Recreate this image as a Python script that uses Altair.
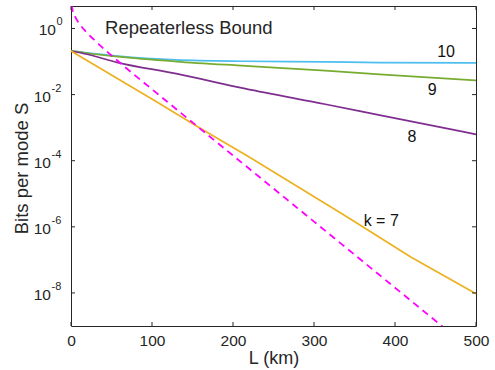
import altair as alt
import pandas as pd

# ---- data ----
L_k = [0, 20, 58, 130, 215, 314, 381, 500]
S_k10 = [0.209, 0.182, 0.145, 0.112, 0.102, 0.098, 0.093, 0.091]
S_k9 = [0.209, 0.178, 0.140, 0.100, 0.074, 0.053, 0.041, 0.027]
S_k8 = [0.209, 0.166, 0.093, 0.043, 0.0151, 0.0051, 0.0024, 0.00063]

L_k7 = [0, 103, 159, 221, 338, 420, 500]
S_k7 = [0.209, 6.6e-3, 9.8e-4, 1.25e-4, 2.2e-6, 1.2e-7, 9.5e-9]

L_bound = [0.8, 2, 5, 10, 20, 30, 50, 75, 100, 150, 200, 300, 400, 470]
S_bound = [5.2, 3.5, 2.28, 1.44, 0.73, 0.42, 0.152, 0.046, 0.0145,
           1.44e-3, 1.44e-4, 1.44e-6, 1.44e-8, 5.7e-10]

series_names = ["10", "9", "8", "7"]
series_colors = ["#4DBEEE", "#77AC30", "#7E2F8E", "#EDB120"]

label_text = ["10", "9", "8", "k = 7", "Repeaterless Bound"]
label_L = [463, 446, 421, 383, 42]
label_S = [0.19, 0.0135, 5.1e-4, 1.55e-6, 1.0]

x_ticks = [0, 100, 200, 300, 400, 500]
y_exps = [0, -2, -4, -6, -8]

W, H = 405, 320
FONT = "Liberation Sans"
TXT = "#262626"

# ---- tables ----
rows = []
for name, Ls, Ss in [("10", L_k, S_k10), ("9", L_k, S_k9), ("8", L_k, S_k8)]:
    for l, s in zip(Ls, Ss):
        rows.append({"L": l, "S": s, "series": name})
df_curves = pd.DataFrame(rows)
df_k7 = pd.DataFrame({"L": L_k7, "S": S_k7, "series": "7"})
df_bound = pd.DataFrame({"L": L_bound, "S": S_bound})
df_labels = pd.DataFrame({"L": label_L, "S": label_S, "txt": label_text})
df_xt = pd.DataFrame({"L": x_ticks})
df_yt = pd.DataFrame({"S": [10.0 ** e for e in y_exps], "exp": [str(e) for e in y_exps]})

xscale = alt.Scale(domain=[0, 500], nice=False, zero=False)
yscale = alt.Scale(type="log", domain=[1e-9, 4.79], nice=False)

xaxis = alt.Axis(values=x_ticks, ticks=False, tickSize=0, domain=False, grid=False,
                 labelPadding=7, labelFontSize=15.5, labelColor=TXT, labelFont=FONT,
                 labelFlush=False, title="L (km)", titlePadding=1, titleFontSize=18,
                 titleFontWeight="normal", titleColor=TXT, titleFont=FONT)
yaxis = alt.Axis(labels=False, ticks=False, domain=False, grid=False,
                 title="Bits per mode S", titleX=-50, titleY=162, titleAngle=270,
                 titleAlign="center", titleBaseline="middle", titleFontSize=18.5,
                 titleFontWeight="normal", titleColor=TXT, titleFont=FONT)

X = alt.X("L:Q", scale=xscale, axis=xaxis)
Y = alt.Y("S:Q", scale=yscale, axis=yaxis)
color = alt.Color("series:N", scale=alt.Scale(domain=series_names, range=series_colors), legend=None)

curves = alt.Chart(df_curves).mark_line(strokeWidth=1.7, interpolate="monotone").encode(
    x=X, y=Y, color=color, detail="series:N")
k7 = alt.Chart(df_k7).mark_line(strokeWidth=1.7).encode(x=X, y=Y, color=color)
bound = alt.Chart(df_bound).mark_line(strokeWidth=1.8, color="#FF00FF", strokeDash=[7, 5],
                                       interpolate="monotone", clip=True).encode(x=X, y=Y)

labels_lines = alt.Chart(df_labels).transform_filter("datum.txt != 'Repeaterless Bound'").mark_text(
    font=FONT, fontSize=16, color="#111", align="center", baseline="middle").encode(
    x=X, y=Y, text="txt:N")
label_bound = alt.Chart(df_labels).transform_filter("datum.txt == 'Repeaterless Bound'").mark_text(
    font=FONT, fontSize=18.5, color=TXT, align="left", baseline="middle").encode(
    x=X, y=Y, text="txt:N")

# inward ticks (MATLAB style box)
tick_c = "#262626"
xt_bottom = alt.Chart(df_xt).mark_rule(color=tick_c).encode(x=X, y=alt.value(H - 4), y2=alt.value(H))
xt_top = alt.Chart(df_xt).mark_rule(color=tick_c).encode(x=X, y=alt.value(0), y2=alt.value(4))
yt_left = alt.Chart(df_yt).mark_rule(color=tick_c).encode(y=Y, x=alt.value(0), x2=alt.value(4))
yt_right = alt.Chart(df_yt).mark_rule(color=tick_c).encode(y=Y, x=alt.value(W - 4), x2=alt.value(W))

# y tick labels 10^e
base0 = alt.Chart(df_yt).transform_filter("datum.exp == '0'").mark_text(
    text="10", font=FONT, fontSize=15.5, color=TXT, align="right", baseline="middle", dy=2).encode(
    y=Y, x=alt.value(-15))
baseN = alt.Chart(df_yt).transform_filter("datum.exp != '0'").mark_text(
    text="10", font=FONT, fontSize=15.5, color=TXT, align="right", baseline="middle", dy=2).encode(
    y=Y, x=alt.value(-20))
exp0 = alt.Chart(df_yt).transform_filter("datum.exp == '0'").mark_text(
    font=FONT, fontSize=11, color=TXT, align="left", baseline="middle", dy=-6).encode(
    y=Y, x=alt.value(-14.5), text="exp:N")
expN = alt.Chart(df_yt).transform_filter("datum.exp != '0'").mark_text(
    font=FONT, fontSize=11, color=TXT, align="left", baseline="middle", dy=-6).encode(
    y=Y, x=alt.value(-19.5), text="exp:N")

chart = alt.layer(
    curves, k7, bound, labels_lines, label_bound,
    xt_bottom, xt_top, yt_left, yt_right, base0, baseN, exp0, expN
).properties(
    width=W, height=H,
    autosize="none",
    padding={"left": 71, "top": 6, "right": 19, "bottom": 44},
    background="white",
).configure_view(stroke="#262626", strokeWidth=1)

chart.save("out.html", embed_options={"renderer": "svg", "actions": False})
